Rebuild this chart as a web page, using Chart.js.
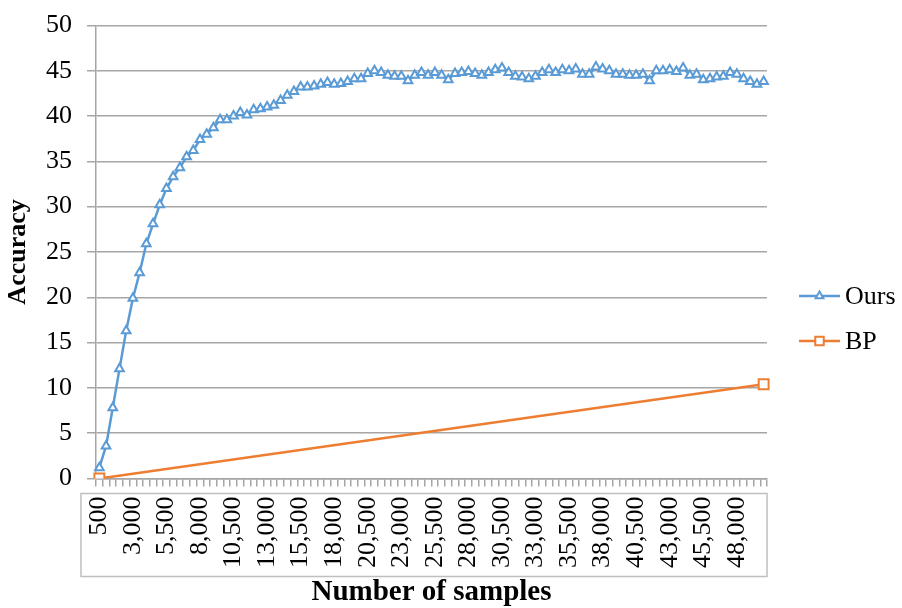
<!DOCTYPE html>
<html>
<head>
<meta charset="utf-8">
<script src="https://cdn.jsdelivr.net/npm/chart.js@4/dist/chart.umd.min.js"></script>
<style>
  html, body { margin: 0; padding: 0; background: #ffffff; }
  #wrap { width: 902px; height: 608px; }
</style>
</head>
<body>
<div id="wrap"><canvas id="chart" width="902" height="608"></canvas></div>
<script>
// Number of training samples (category axis)
const sampleCounts = [
  500, 1000, 1500, 2000, 2500, 3000, 3500, 4000, 4500, 5000,
  5500, 6000, 6500, 7000, 7500, 8000, 8500, 9000, 9500, 10000,
  10500, 11000, 11500, 12000, 12500, 13000, 13500, 14000, 14500, 15000,
  15500, 16000, 16500, 17000, 17500, 18000, 18500, 19000, 19500, 20000,
  20500, 21000, 21500, 22000, 22500, 23000, 23500, 24000, 24500, 25000,
  25500, 26000, 26500, 27000, 27500, 28000, 28500, 29000, 29500, 30000,
  30500, 31000, 31500, 32000, 32500, 33000, 33500, 34000, 34500, 35000,
  35500, 36000, 36500, 37000, 37500, 38000, 38500, 39000, 39500, 40000,
  40500, 41000, 41500, 42000, 42500, 43000, 43500, 44000, 44500, 45000,
  45500, 46000, 46500, 47000, 47500, 48000, 48500, 49000, 49500, 50000
];

// Accuracy of our method at each sample count
const oursAccuracy = [
  1.2, 3.6, 7.8, 12.1, 16.3, 19.9, 22.7, 25.9, 28.1, 30.2,
  32.0, 33.3, 34.3, 35.5, 36.2, 37.4, 38.0, 38.7, 39.6, 39.6,
  40.0, 40.4, 40.1, 40.7, 40.8, 41.0, 41.2, 41.7, 42.3, 42.7,
  43.2, 43.2, 43.3, 43.5, 43.7, 43.5, 43.6, 43.8, 44.1, 44.1,
  44.7, 45.0, 44.8, 44.5, 44.4, 44.4, 43.9, 44.5, 44.8, 44.5,
  44.8, 44.5, 44.0, 44.7, 44.8, 44.9, 44.7, 44.5, 44.8, 45.1,
  45.3, 44.8, 44.4, 44.3, 44.1, 44.4, 44.8, 45.1, 44.8, 45.1,
  45.0, 45.2, 44.6, 44.6, 45.4, 45.2, 45.0, 44.6, 44.6, 44.5,
  44.5, 44.6, 43.9, 45.0, 45.0, 45.1, 44.9, 45.3, 44.5, 44.6,
  44.0, 44.1, 44.3, 44.4, 44.8, 44.6, 44.1, 43.8, 43.5, 43.8
];

// Backpropagation baseline: measured only at the first and last sample counts
const bpAccuracy = sampleCounts.map(() => null);
const bpMeasured = { first: 0, last: 10.4 };
bpAccuracy[0] = bpMeasured.first;
bpAccuracy[bpAccuracy.length - 1] = bpMeasured.last;

// Y axis range and step
const yMin = 0;
const yMax = 50;
const yStep = 5;

// Every fifth category gets a printed label
const labelEvery = 5;

const seriesNames = ['Ours', 'BP'];
const colors = { ours: '#5b9bd5', bp: '#ed7d31', grid: '#a6a6a6', frame: '#bfbfbf' };
const FONT = "'Liberation Serif', 'Times New Roman', serif";

const fmt = n => Number(n).toLocaleString('en-US');

// Light frame around the category labels
const labelFrame = {
  id: 'labelFrame',
  afterDraw(chart) {
    const { ctx, chartArea } = chart;
    const x = chart.scales.x;
    ctx.save();
    ctx.strokeStyle = colors.frame;
    ctx.lineWidth = 1.5;
    const top = x.top + 15;
    const bottom = x.top + 98;
    ctx.strokeRect(chartArea.left - 15, top, chartArea.right - (chartArea.left - 15), bottom - top);
    ctx.restore();
  }
};

// Legend on the right: short line with the series marker, then the name
const sideLegend = {
  id: 'sideLegend',
  afterDraw(chart) {
    const { ctx, chartArea } = chart;
    const midY = (chartArea.top + chartArea.bottom) / 2;
    ctx.save();
    chart.data.datasets.forEach((ds, i) => {
      const y = midY + 44 + i * 45;
      const x0 = chartArea.right + 32;
      const x1 = chartArea.right + 73;
      ctx.strokeStyle = ds.borderColor;
      ctx.lineWidth = 2.5;
      ctx.beginPath();
      ctx.moveTo(x0, y);
      ctx.lineTo(x1, y);
      ctx.stroke();
      ctx.fillStyle = '#ffffff';
      ctx.strokeStyle = ds.borderColor;
      ctx.lineWidth = 2;
      Chart.helpers.drawPoint(ctx, { pointStyle: ds.pointStyle, radius: ds.pointStyle === 'rect' ? 6 : 4.5, rotation: 0, borderWidth: 2 }, (x0 + x1) / 2, y);
      ctx.fillStyle = '#000000';
      ctx.font = "26px " + FONT;
      ctx.textAlign = 'left';
      ctx.textBaseline = 'middle';
      ctx.fillText(ds.label, x1 + 5, y + 1);
    });
    ctx.restore();
  }
};

new Chart(document.getElementById('chart'), {
  type: 'line',
  data: {
    labels: sampleCounts,
    datasets: [
      {
        label: seriesNames[0],
        data: oursAccuracy,
        borderColor: colors.ours,
        backgroundColor: '#ffffff',
        borderWidth: 2.5,
        pointStyle: 'triangle',
        pointRadius: 5,
        pointBorderWidth: 2,
        pointBackgroundColor: '#ffffff',
        pointBorderColor: colors.ours,
        tension: 0
      },
      {
        label: seriesNames[1],
        data: bpAccuracy,
        borderColor: colors.bp,
        backgroundColor: '#ffffff',
        borderWidth: 2.5,
        pointStyle: 'rect',
        pointRadius: 7,
        pointBorderWidth: 2,
        pointBackgroundColor: '#ffffff',
        pointBorderColor: colors.bp,
        spanGaps: true,
        tension: 0
      }
    ]
  },
  options: {
    responsive: false,
    animation: false,
    layout: { padding: { top: 10, right: 135, bottom: 0, left: 0 } },
    plugins: {
      legend: { display: false },
      tooltip: { enabled: false }
    },
    scales: {
      x: {
        type: 'category',
        offset: true,
        grid: {
          offset: true,
          drawOnChartArea: false,
          drawTicks: true,
          tickLength: 8,
          color: colors.grid,
          lineWidth: 1.5
        },
        border: { color: colors.grid, width: 1.5 },
        ticks: {
          autoSkip: false,
          minRotation: 90,
          maxRotation: 90,
          padding: 10,
          color: '#000000',
          font: { family: FONT, size: 26 },
          callback: function (value, index) {
            return index % labelEvery === 0 ? fmt(this.getLabelForValue(value)) : '';
          }
        },
        title: {
          display: true,
          text: 'Number of samples',
          color: '#000000',
          font: { family: FONT, size: 29, weight: 'bold', lineHeight: 1 },
          padding: { top: 0, bottom: 1 }
        }
      },
      y: {
        min: yMin,
        max: yMax,
        grid: {
          color: colors.grid,
          lineWidth: 1.5,
          drawTicks: true,
          tickLength: 9
        },
        border: { color: colors.grid, width: 1.5 },
        ticks: {
          stepSize: yStep,
          padding: 15,
          color: '#000000',
          font: { family: FONT, size: 26, lineHeight: 0.8 }
        },
        title: {
          display: true,
          text: 'Accuracy',
          color: '#000000',
          font: { family: FONT, size: 26, weight: 'bold', lineHeight: 1 },
          padding: { top: 5, bottom: 0 }
        }
      }
    }
  },
  plugins: [labelFrame, sideLegend]
});
</script>
</body>
</html>
